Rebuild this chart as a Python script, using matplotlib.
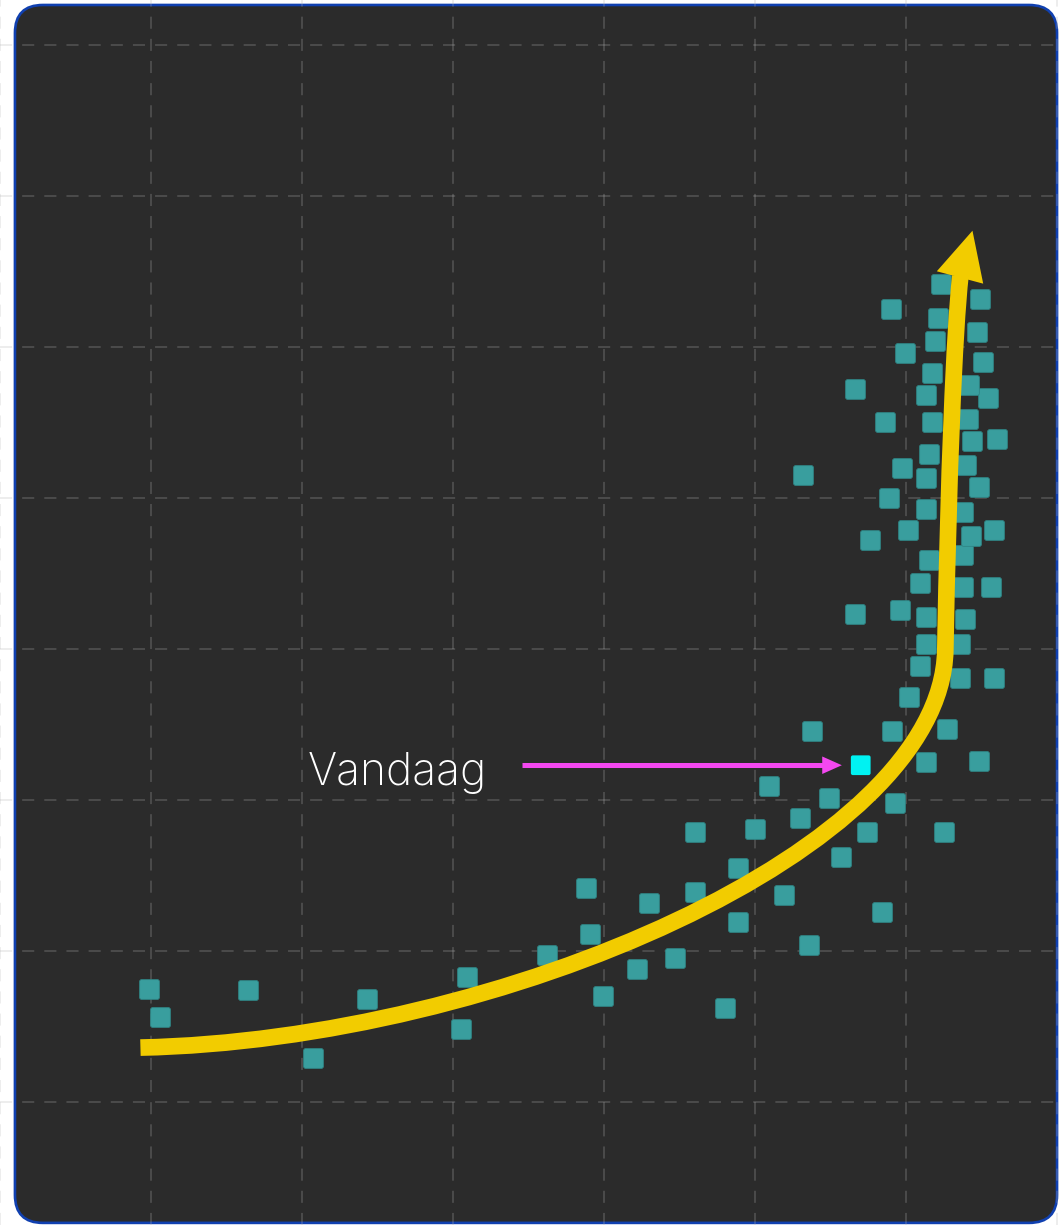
import numpy as np
import matplotlib
matplotlib.use('Agg')
import matplotlib.pyplot as plt
from matplotlib.path import Path
from matplotlib.patches import FancyBboxPatch, PathPatch, Polygon

# Observations, in grid units
obs_x = [0.99, 1.06, 1.64, 2.07, 2.43, 3.09, 3.05, 3.62, 3.88, 3.91,
         3.99, 4.22, 4.30, 4.47, 4.60, 4.60, 4.80, 4.89, 4.89, 5.00,
         5.09, 5.19, 5.30, 5.36, 5.38, 5.49, 5.57, 5.74, 5.84, 5.91,
         5.93, 6.02, 6.13, 6.25, 6.27, 6.48, 6.09, 6.36, 6.58, 6.13,
         6.36, 5.66, 5.96, 6.13, 6.39, 6.09, 6.38, 6.56, 6.15, 6.38,
         5.76, 6.01, 6.43, 6.58, 5.89, 6.13, 6.38, 6.48, 5.32, 5.97,
         6.13, 6.40, 6.15, 6.44, 6.60, 5.86, 6.17, 6.41, 5.66, 6.13,
         6.54, 6.42, 6.17, 6.51, 5.99, 6.19, 6.47, 6.21, 5.90, 6.49,
         6.23]
obs_y = [1.75, 1.56, 1.74, 1.29, 1.68, 1.83, 1.48, 1.97, 2.42, 2.11,
         1.70, 1.88, 2.32, 1.95, 2.79, 2.39, 1.62, 2.55, 2.19, 2.81,
         3.09, 2.37, 2.88, 2.04, 3.46, 3.01, 2.62, 2.79, 2.26, 3.46,
         2.98, 3.68, 3.25, 2.79, 3.47, 3.26, 3.89, 3.81, 3.81, 4.03,
         4.03, 4.23, 4.26, 4.21, 4.20, 4.44, 4.41, 4.41, 4.59, 4.62,
         4.72, 4.79, 4.75, 4.79, 5.00, 4.93, 4.91, 5.07, 5.15, 5.20,
         5.13, 5.22, 5.29, 5.38, 5.39, 5.50, 5.50, 5.52, 5.72, 5.68,
         5.66, 5.75, 5.83, 5.90, 5.96, 6.04, 6.10, 6.19, 6.25, 6.32,
         6.42]

# the current observation
today_x = 5.70
today_y = 3.23
today_label = 'Vandaag'

# trend curve: start + two cubic bezier segments, then the arrow tip
trend_x = [0.93, 3.31, 6.23, 6.26, 6.28, 6.32, 6.36]
trend_y = [1.36, 1.41, 2.67, 3.99, 5.12, 6.11, 6.47]
trend_tip = (6.44, 6.77)

BG = '#2b2b2b'
TEAL = '#399e9e'
CYAN = '#00f2f2'
YELLOW = '#f2cc00'
MAGENTA = '#f448f0'


def rounded_square(r=0.2):
    """Unit square marker path with rounded corners."""
    a = 1.0 - r
    verts = [(-a, -1), (a, -1), (1, -1), (1, -a), (1, a), (1, 1), (a, 1),
             (-a, 1), (-1, 1), (-1, a), (-1, -a), (-1, -1), (-a, -1), (-a, -1)]
    codes = [Path.MOVETO, Path.LINETO, Path.CURVE3, Path.CURVE3, Path.LINETO,
             Path.CURVE3, Path.CURVE3, Path.LINETO, Path.CURVE3, Path.CURVE3,
             Path.LINETO, Path.CURVE3, Path.CURVE3, Path.CLOSEPOLY]
    return Path(verts, codes)


def arrow_head(ax, base, tip, half_width, color, zorder):
    base = np.asarray(base, float)
    tip = np.asarray(tip, float)
    d = (tip - base) / np.hypot(*(tip - base))
    n = np.array([-d[1], d[0]])
    back = base - 0.01 * d
    head = Polygon([tip, back + half_width * n, back - half_width * n],
                   closed=True, facecolor=color, edgecolor='none', zorder=zorder)
    ax.add_patch(head)


fig = plt.figure(figsize=(10.59, 12.25), dpi=100)
ax = fig.add_axes([0, 0, 1, 1])
ax.set_xlim(0, 7.013)
ax.set_ylim(0.185, 8.298)
ax.set_facecolor('none')
for s in ax.spines.values():
    s.set_visible(False)
ax.set_xticks(range(0, 8))
ax.set_yticks(range(1, 9))
ax.tick_params(length=0, labelbottom=False, labelleft=False)
ax.grid(True, color='#b4b4b4', alpha=0.23, lw=1.45, linestyle=(0, (6, 5)))

# dark rounded panel
panel = FancyBboxPatch((0.099 + 0.185, 0.199 + 0.185),
                       7.0 - 0.099 - 0.37, 8.265 - 0.199 - 0.37,
                       boxstyle='round,pad=0.185',
                       facecolor=BG, edgecolor='#1040b0', lw=1.9, zorder=0.5)
ax.add_patch(panel)

# observations
marker = rounded_square(0.2)
ax.scatter(obs_x, obs_y, marker=marker, s=14.2 ** 2, facecolor=TEAL,
           edgecolor='#2f8787', linewidths=0.6, zorder=3)
ax.scatter([today_x], [today_y], marker=marker, s=14.2 ** 2, facecolor=CYAN,
           edgecolor='none', zorder=5)

# trend arrow
codes = [Path.MOVETO] + [Path.CURVE4] * 6
trend = Path(list(zip(trend_x, trend_y)), codes)
ax.add_patch(PathPatch(trend, fill=False, edgecolor=YELLOW, lw=12,
                       capstyle='butt', joinstyle='round', zorder=4))
arrow_head(ax, (trend_x[-1], trend_y[-1]), trend_tip, 0.159, YELLOW, 4)

# pointer to today's value
pointer_start = (3.46, today_y)
pointer_end = (today_x - 0.125, today_y)
head_base = (pointer_end[0] - 0.12, today_y)
ax.plot([pointer_start[0], head_base[0]], [today_y, today_y],
        color=MAGENTA, lw=3.6, solid_capstyle='butt', zorder=4)
arrow_head(ax, head_base, pointer_end, 0.058, MAGENTA, 4)

ax.text(2.04, today_y - 0.13, today_label, color='white', fontsize=32,
        family=['Inter', 'DejaVu Sans'], fontweight='light',
        ha='left', va='baseline', zorder=6)

fig.savefig('out.png', dpi=100, facecolor='white')
